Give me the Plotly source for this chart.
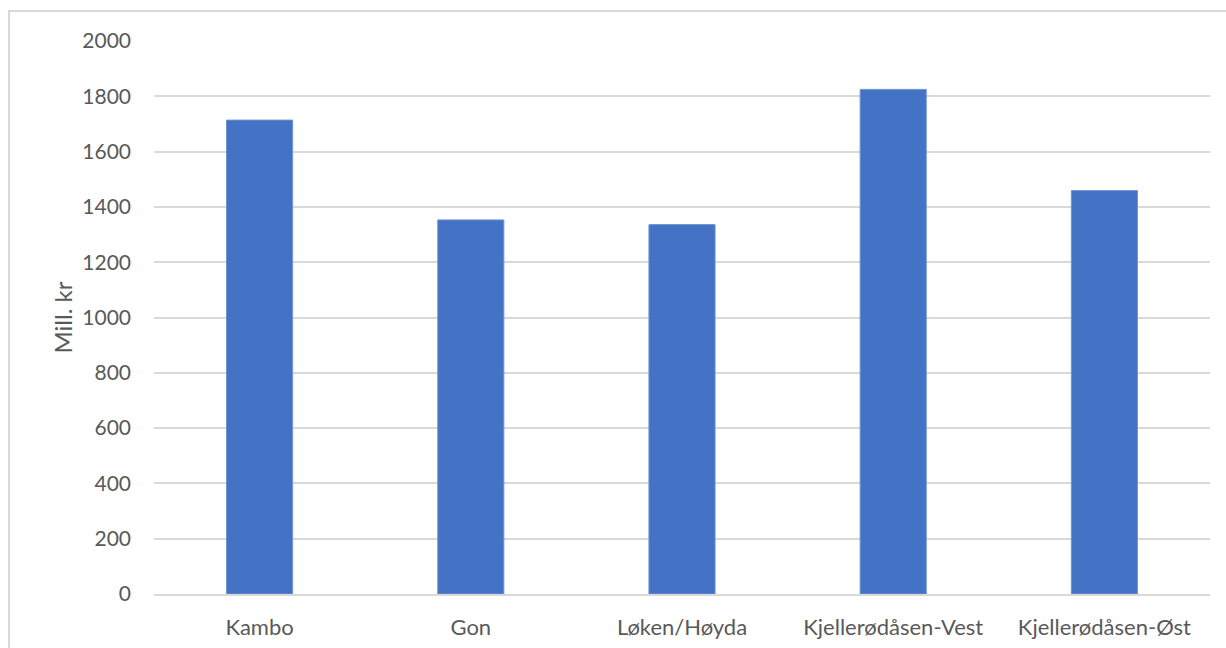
import plotly.graph_objects as go

categories = ["Kambo", "Gon", "Løken/Høyda", "Kjellerødåsen-Vest", "Kjellerødåsen-Øst"]
values = [1714, 1353, 1336, 1825, 1459]
y_ticks = [0, 200, 400, 600, 800, 1000, 1200, 1400, 1600, 1800, 2000]
y_title = "Mill. kr"

W, H = 1226, 648
L, R, T, B = 154, 16, 41, 54
pw, ph = W - L - R, H - T - B

fam = "Lato, 'Open Sans', sans-serif"
col = "#595959"
font = dict(family=fam, size=20, color=col)

fig = go.Figure(go.Bar(
    x=categories, y=values,
    marker=dict(color="#4472C4", line=dict(color="#6F93D3", width=1)),
    hoverinfo="x+y",
))

fig.update_layout(
    width=W, height=H,
    margin=dict(l=L, r=R, t=T, b=B, pad=0),
    paper_bgcolor="white", plot_bgcolor="white",
    font=font,
    bargap=0.687,
    showlegend=False,
    xaxis=dict(showgrid=False, showline=True, linecolor="#D9D9D9", linewidth=2,
               ticks="", ticklabelstandoff=13, automargin=False,
               tickfont=dict(family=fam, size=22, color=col)),
    yaxis=dict(range=[0, 2000], tickvals=y_ticks, showgrid=True, gridcolor="#D9D9D9",
               gridwidth=2, zeroline=False, showline=False, ticks="",
               ticklabelstandoff=22, automargin=False,
               tickfont=dict(family=fam, size=21, color=col)),
)

fig.add_annotation(
    text=y_title, textangle=-90, xref="paper", yref="paper",
    x=(62 - L) / pw, y=0.5, xanchor="center", yanchor="middle",
    showarrow=False, font=dict(family=fam, size=24, color=col),
)

bx = (9 - L) / pw
by = 1 + (T - 11) / ph
fig.add_shape(type="path", xref="paper", yref="paper",
              path=f"M {bx} {-B/ph - 0.05} L {bx} {by} L {1 + (R+5)/pw} {by}",
              line=dict(color="#D9D9D9", width=2))

fig.write_html("out.html")
